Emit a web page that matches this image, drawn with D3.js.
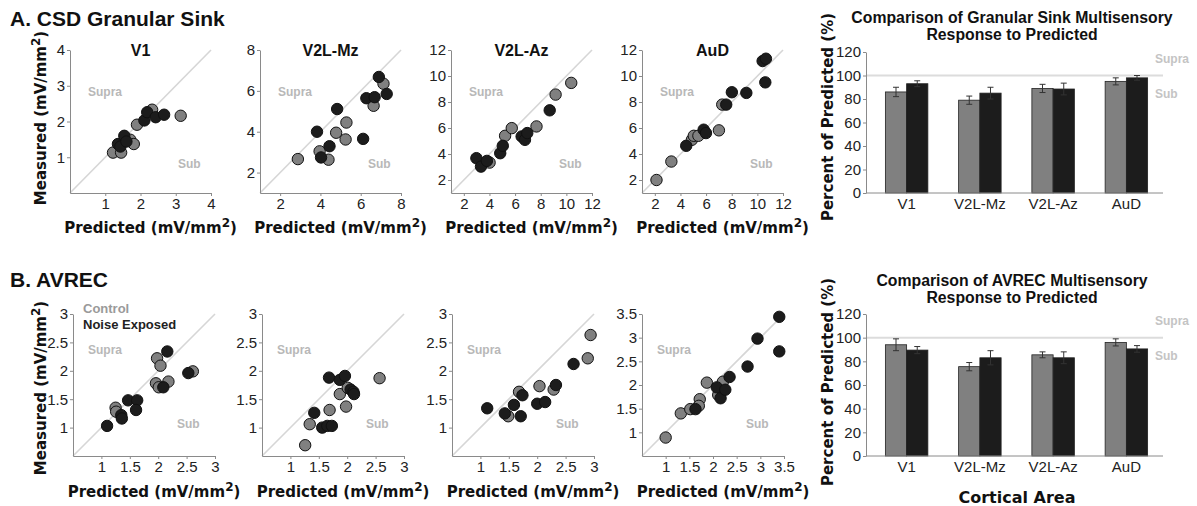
<!DOCTYPE html>
<html>
<head>
<meta charset="utf-8">
<script src="https://cdn.jsdelivr.net/npm/d3@7"></script>
<style>
body { margin: 0; background: #fff; }
svg { display: block; }
.axis path, .axis line { stroke: #8a8a8a; }
.axis text { font-family: "Liberation Sans", Arial, sans-serif; font-size: 15px; fill: #222; }
</style>
</head>
<body>
<svg width="1197" height="506"></svg>
<script>
// ---- scatter data: [predicted, measured] ----
const csdV1Control   = [[1.22,1.13],[1.45,1.13],[1.71,1.49],[1.81,1.37],[1.90,1.91],[2.33,2.33],[3.14,2.16]];
const csdV1Noise     = [[1.36,1.37],[1.43,1.30],[1.54,1.60],[1.60,1.44],[2.11,2.03],[2.19,2.26],[2.43,2.12],[2.67,2.19]];
const csdMzControl   = [[2.88,2.66],[3.96,3.04],[4.40,2.63],[4.78,3.95],[5.29,4.45],[5.25,3.62],[6.64,5.27],[7.13,6.35]];
const csdMzNoise     = [[3.83,4.00],[4.03,2.74],[4.45,3.29],[4.83,5.11],[6.12,3.65],[6.28,5.64],[6.69,5.69],[6.90,6.68],[7.29,5.85]];
const csdAzControl   = [[4.01,3.34],[5.22,5.40],[5.74,5.99],[7.67,6.12],[9.16,8.57],[10.38,9.47]];
const csdAzNoise     = [[2.98,3.68],[3.34,3.03],[3.80,3.47],[4.84,4.06],[5.04,4.63],[6.51,5.35],[6.77,5.09],[6.95,5.61],[8.70,7.36]];
const csdAuDControl  = [[2.13,2.00],[3.29,3.42],[4.89,5.09],[5.04,5.40],[5.40,5.40],[7.00,5.82],[7.26,7.80]];
const csdAuDNoise    = [[4.45,4.63],[5.81,5.87],[5.99,5.61],[7.57,7.80],[8.01,8.75],[9.14,8.70],[10.41,11.15],[10.67,11.33],[10.62,9.51]];

const avrecV1Control  = [[1.25,1.35],[1.26,1.28],[1.98,2.22],[2.04,2.09],[1.96,1.78],[2.01,1.71],[2.18,1.81],[2.61,1.99]];
const avrecV1Noise    = [[1.10,1.03],[1.35,1.22],[1.36,1.16],[1.47,1.48],[1.63,1.48],[1.61,1.31],[2.16,2.34],[2.09,1.71],[2.53,1.96]];
const avrecMzControl  = [[1.26,0.69],[1.34,1.06],[1.69,1.31],[1.87,1.59],[1.98,1.37],[2.01,1.70],[2.57,1.87]];
const avrecMzNoise    = [[1.42,1.26],[1.56,1.00],[1.65,1.03],[1.73,1.03],[1.68,1.88],[1.87,1.84],[1.96,1.91],[2.06,1.67],[2.11,1.63],[2.12,1.59]];
const avrecAzControl  = [[1.49,1.20],[1.68,1.63],[2.04,1.73],[2.29,1.67],[2.89,2.22],[2.94,2.63]];
const avrecAzNoise    = [[1.12,1.34],[1.43,1.25],[1.59,1.40],[1.71,1.20],[1.74,1.57],[2.00,1.42],[2.14,1.45],[2.33,1.75],[2.64,2.12]];
const avrecAuDControl = [[1.00,0.89],[1.32,1.40],[1.52,1.49],[1.72,1.70],[1.70,1.56],[1.87,2.05],[2.11,1.79],[2.21,2.07]];
const avrecAuDNoise   = [[1.63,1.49],[2.08,1.95],[2.16,1.72],[2.26,1.90],[2.35,2.17],[2.73,2.39],[2.94,2.98],[3.40,3.44],[3.40,2.71]];

// ---- bar data: percent of predicted, mean and sem ----
const areas = ["V1", "V2L-Mz", "V2L-Az", "AuD"];
const csdCtrlPct    = [86, 79, 89, 95];
const csdCtrlErr    = [4, 3.5, 3.5, 3];
const csdNoisePct   = [93, 85, 88.5, 98];
const csdNoiseErr   = [2.5, 5, 5, 2];
const avrecCtrlPct  = [94, 75.5, 85.5, 96];
const avrecCtrlErr  = [5, 3.5, 2.5, 3];
const avrecNoisePct = [89.5, 83, 83, 90.5];
const avrecNoiseErr = [3, 6, 5, 2.8];

const ticksTopV1 = [1, 2, 3, 4];
const ticksTopMz = [2, 4, 6, 8];
const ticksTopAz = [2, 4, 6, 8, 10, 12];
const ticksBot   = [1, 1.5, 2, 2.5, 3];
const ticksBotAuD = [1, 1.5, 2, 2.5, 3, 3.5];
const pctTicks   = [0, 20, 40, 60, 80, 100, 120];

const SANS = '"Liberation Sans", Arial, sans-serif';
const VERD = '"DejaVu Sans", Verdana, sans-serif';
const GRAY = "#808080", DARK = "#1c1c1c";

let svg = d3.select("svg");

function boldText(g, x, y, txt, size, fill, anchor) {
    return g.append("text")
        .attr("x", x).attr("y", y)
        .attr("text-anchor", anchor || "start")
        .attr("font-family", SANS)
        .attr("font-weight", "bold")
        .attr("font-size", size)
        .attr("fill", fill)
        .text(txt);
}

// label with superscript 2, optionally rotated
function unitLabel(g, cx, cy, txt, rotate) {
    let t = g.append("text")
        .attr("text-anchor", "middle")
        .attr("font-family", VERD)
        .attr("font-weight", "bold")
        .attr("font-size", 15)
        .attr("fill", "#111");
    if (rotate) t.attr("transform", `translate(${cx},${cy}) rotate(-90)`);
    else t.attr("x", cx).attr("y", cy);
    t.append("tspan").text(txt + " (mV/mm");
    t.append("tspan").attr("dy", -6).attr("font-size", 12).text("2");
    t.append("tspan").attr("dy", 6).text(")");
}

function scatter(p) {
    let g = svg.append("g");
    let x = d3.scaleLinear().domain(p.dom).range([p.left, p.left + p.w]);
    let y = d3.scaleLinear().domain(p.dom).range([p.top + p.h, p.top]);

    g.append("line")
        .attr("x1", x(p.dom[0])).attr("y1", y(p.dom[0]))
        .attr("x2", x(p.dom[1])).attr("y2", y(p.dom[1]))
        .attr("stroke", "#d6d6d6").attr("stroke-width", 1.6);

    g.append("g").attr("class", "axis")
        .attr("transform", `translate(0,${p.top + p.h})`)
        .call(d3.axisBottom(x).tickValues(p.ticks).tickFormat(d3.format("")).tickSize(3).tickPadding(2).tickSizeOuter(0));
    g.append("g").attr("class", "axis")
        .attr("transform", `translate(${p.left},0)`)
        .call(d3.axisLeft(y).tickValues(p.ticks).tickFormat(d3.format("")).tickSize(3).tickPadding(2).tickSizeOuter(0));

    boldText(g, p.left + p.supra[0], p.top + p.supra[1], "Supra", 12, "#b8b8b8");
    boldText(g, p.left + p.sub[0], p.top + p.sub[1], "Sub", 12, "#b8b8b8");

    [[p.control, GRAY], [p.noise, DARK]].forEach(([pts, col]) => {
        g.selectAll(null).data(pts).enter().append("circle")
            .attr("cx", d => x(d[0]))
            .attr("cy", d => y(d[1]))
            .attr("r", 5.7)
            .attr("fill", col)
            .attr("stroke", "#111")
            .attr("stroke-width", 1);
    });

    if (p.title) boldText(g, p.left + p.w / 2, p.top + 6, p.title, 16, "#111", "middle");
    unitLabel(g, p.left + p.w / 2 + 10, p.labelY, "Predicted", false);
}

let topRow = [
    {title: "V1",     left: 70,  dom: [0, 4],  ticks: ticksTopV1, control: csdV1Control,  noise: csdV1Noise},
    {title: "V2L-Mz", left: 260, dom: [1, 8],  ticks: ticksTopMz, control: csdMzControl,  noise: csdMzNoise},
    {title: "V2L-Az", left: 451, dom: [1, 12], ticks: ticksTopAz, control: csdAzControl,  noise: csdAzNoise},
    {title: "AuD",    left: 642, dom: [1, 12], ticks: ticksTopAz, control: csdAuDControl, noise: csdAuDNoise}
];
topRow.forEach(p => scatter(Object.assign(p, {top: 50, w: 141, h: 143, supra: [18, 46], sub: [108, 118], labelY: 233})));

let botRow = [
    {left: 73,  dom: [0.5, 3],   ticks: ticksBot,    control: avrecV1Control,  noise: avrecV1Noise},
    {left: 262, dom: [0.5, 3],   ticks: ticksBot,    control: avrecMzControl,  noise: avrecMzNoise},
    {left: 452, dom: [0.5, 3],   ticks: ticksBot,    control: avrecAzControl,  noise: avrecAzNoise},
    {left: 642, dom: [0.5, 3.5], ticks: ticksBotAuD, control: avrecAuDControl, noise: avrecAuDNoise}
];
botRow.forEach(p => scatter(Object.assign(p, {top: 314, w: 142, h: 142, supra: [15, 40], sub: [104, 114], labelY: 497})));

unitLabel(svg, 46, 118, "Measured", true);
unitLabel(svg, 46, 388, "Measured", true);

boldText(svg, 10, 26, "A. CSD Granular Sink", 21, "#111");
boldText(svg, 10, 287, "B. AVREC", 21, "#111");

boldText(svg, 83, 313, "Control", 13, "#9a9a9a");
boldText(svg, 83, 329, "Noise Exposed", 13, "#222");

// ---- bar charts ----
function bars(b) {
    let g = svg.append("g");
    let x0 = d3.scaleBand().domain(areas).range([870, 1163]).paddingInner(0.42).paddingOuter(0.21);
    let x1 = d3.scaleBand().domain(["c", "n"]).range([0, x0.bandwidth()]);
    let y = d3.scaleLinear().domain([0, 120]).range([b.top + b.h, b.top]);

    g.append("line")
        .attr("x1", 866).attr("x2", 1163)
        .attr("y1", y(100)).attr("y2", y(100))
        .attr("stroke", "#dcdcdc").attr("stroke-width", 2);
    boldText(g, 1155, y(100) - 13, "Supra", 12, "#c4c4c4");
    boldText(g, 1155, y(100) + 22, "Sub", 12, "#c4c4c4");

    let rows = areas.map((a, i) => [
        {area: a, k: "c", v: b.ctrl[i], e: b.ctrlErr[i], fill: GRAY},
        {area: a, k: "n", v: b.noise[i], e: b.noiseErr[i], fill: DARK}
    ]).flat();

    g.selectAll(null).data(rows).enter().append("rect")
        .attr("x", d => x0(d.area) + x1(d.k))
        .attr("width", x1.bandwidth())
        .attr("y", d => y(d.v))
        .attr("height", d => y(0) - y(d.v))
        .attr("fill", d => d.fill)
        .attr("stroke", "#222").attr("stroke-width", 0.8);

    let eb = g.selectAll(null).data(rows).enter().append("g")
        .attr("transform", d => `translate(${x0(d.area) + x1(d.k) + x1.bandwidth() / 2},0)`);
    eb.append("line").attr("y1", d => y(d.v - d.e)).attr("y2", d => y(d.v + d.e))
        .attr("stroke", "#333").attr("stroke-width", 1);
    [-1, 1].forEach(s => eb.append("line").attr("x1", -3).attr("x2", 3)
        .attr("y1", d => y(d.v + s * d.e)).attr("y2", d => y(d.v + s * d.e))
        .attr("stroke", "#333").attr("stroke-width", 1));

    g.append("g").attr("class", "axis")
        .attr("transform", `translate(866,0)`)
        .call(d3.axisLeft(y).tickValues(pctTicks).tickSize(3).tickPadding(2).tickSizeOuter(0));
    let xa = g.append("g").attr("class", "axis")
        .attr("transform", `translate(0,${b.top + b.h})`)
        .call(d3.axisBottom(x0).tickSize(0).tickPadding(5).tickSizeOuter(0));
    xa.select(".domain").attr("d", "M866,0H1163");

    b.title.forEach((t, i) => boldText(g, 1012, b.titleY + i * 17, t, 15.8, "#111", "middle"));

    g.append("text")
        .attr("transform", `translate(833,${b.labelY}) rotate(-90)`)
        .attr("text-anchor", "middle")
        .attr("font-family", VERD).attr("font-weight", "bold").attr("font-size", 15)
        .attr("fill", "#111")
        .text("Percent of Predicted (%)");
}

bars({top: 52, h: 141, ctrl: csdCtrlPct, ctrlErr: csdCtrlErr, noise: csdNoisePct, noiseErr: csdNoiseErr,
      title: ["Comparison of Granular Sink Multisensory", "Response to Predicted"], titleY: 22.5, labelY: 117});
bars({top: 314, h: 142, ctrl: avrecCtrlPct, ctrlErr: avrecCtrlErr, noise: avrecNoisePct, noiseErr: avrecNoiseErr,
      title: ["Comparison of AVREC Multisensory", "Response to Predicted"], titleY: 285.5, labelY: 382});

svg.append("text")
    .attr("x", 1017).attr("y", 503)
    .attr("text-anchor", "middle")
    .attr("font-family", VERD).attr("font-weight", "bold").attr("font-size", 16)
    .attr("fill", "#111")
    .text("Cortical Area");
</script>
</body>
</html>
